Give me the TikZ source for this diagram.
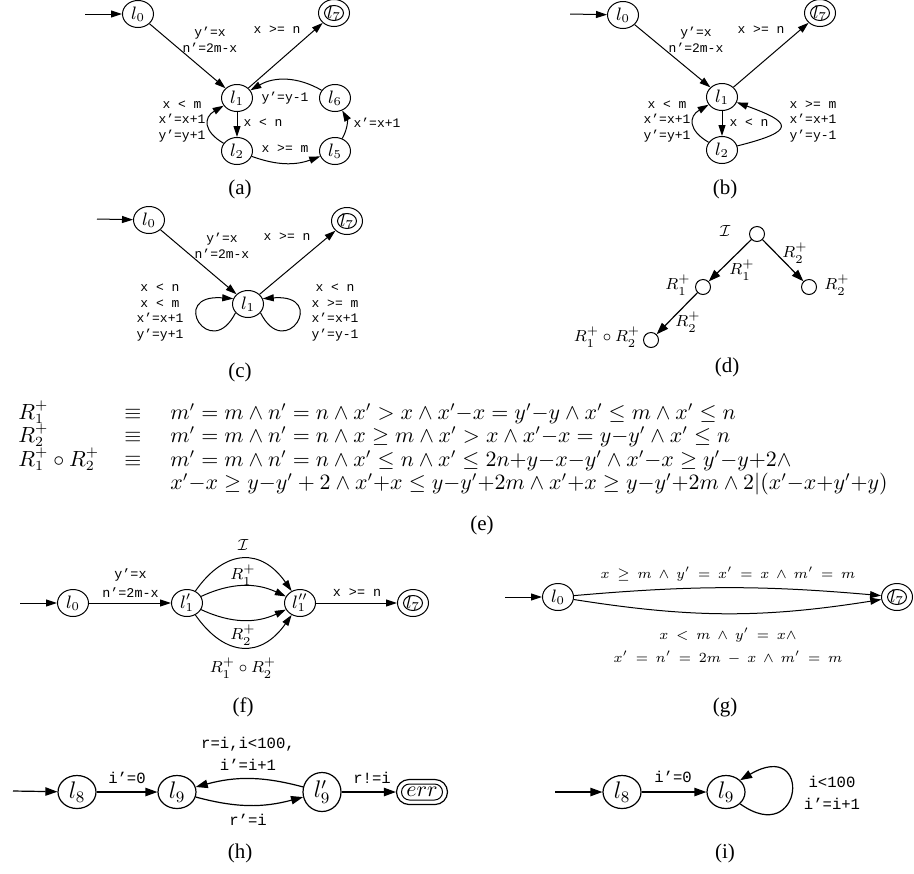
\documentclass[tikz,border=0pt]{standalone}
\usepackage[no-math]{fontspec}
\setmainfont{Liberation Serif}
\setmonofont{Liberation Mono}
\usetikzlibrary{arrows.meta,shapes.geometric,shapes.misc}
\tikzset{
  st/.style={draw, ellipse, line width=0.5pt, inner sep=0pt, minimum width=15.5pt, minimum height=13.5pt, font=\fontsize{9}{9}\selectfont},
  bst/.style={draw, ellipse, line width=0.6pt, inner sep=0pt, minimum width=19pt, minimum height=16.5pt, font=\fontsize{12}{12}\selectfont},
  ring/.style={draw, ellipse, line width=0.5pt, inner sep=0pt, minimum width=9.5pt, minimum height=7.5pt},
  tl/.style={font=\ttfamily\fontsize{6.5}{7.8}\selectfont, align=center, inner sep=0pt},
  ftl/.style={font=\ttfamily\fontsize{6.7}{9.5}\selectfont, align=center, inner sep=0pt},
  btl/.style={font=\ttfamily\fontsize{7.8}{11}\selectfont, align=center, inner sep=0pt},
  ml/.style={font=\fontsize{8.5}{10}\selectfont, inner sep=0pt},
  gl/.style={font={\fontsize{7}{11.5}\selectfont\thickmuskip=8.5mu\medmuskip=7.5mu}, align=center, inner sep=0pt},
  eq/.style={font=\fontsize{10.5}{12}\selectfont, inner sep=0pt},
  ed/.style={line width=0.5pt, -{Triangle[length=5.5pt,width=3.5pt]}},
  bed/.style={line width=0.6pt, -{Triangle[length=6pt,width=4.2pt]}},
  capt/.style={font=\fontsize{10.5}{12}\selectfont, inner sep=0pt},
  dotn/.style={draw, circle, line width=0.5pt, minimum size=7.5pt, inner sep=0pt},
}
\begin{document}
\begin{tikzpicture}[x=0.5pt,y=0.5pt]
\useasboundingbox (0,0) rectangle (914,-873);

% ---------------- (a)
\coordinate (ain) at (85,-14);
\node[st] (a0) at (138,-14) {$l_0$};
\node[st] (a7) at (334,-13) {$l_7$};
\node[ring] (a7r) at (a7) {};
\node[st] (a1) at (237,-98) {$l_1$};
\node[st] (a6) at (335,-98) {$l_6$};
\node[st] (a2) at (237,-151) {$l_2$};
\node[st] (a5) at (335,-151) {$l_5$};
\draw[ed] (ain) -- (a0);
\draw[ed] (a0) -- (a1);
\draw[ed] (a1) -- (a7);
\draw[ed] (a6) to[bend right=30] (a1);
\draw[ed] (a1) -- (a2);
\draw[ed] (a2) to[out=150,in=210,looseness=1.6] (a1);
\draw[ed] (a2) to[bend right=20] (a5);
\draw[ed] (a5) to[bend right=30] (a6);
\node[tl] (al1) at (210,-39.5) {y’=x\\n’=2m-x};
\node[tl] (al2) at (277,-30) {x >= n};
\node[tl] (al3) at (285,-98) {y’=y-1};
\node[tl] (al4) at (263,-123) {x < n};
\node[tl] (al5) at (182,-121.5) {x < m\\x’=x+1\\y’=y+1};
\node[tl] (al6) at (285,-149) {x >= m};
\node[tl] (al7) at (377,-123) {x’=x+1};
\node[capt] (acap) at (240,-189) {(a)};

% ---------------- (b)
\coordinate (bin) at (570,-14);
\node[st] (b0) at (623,-15) {$l_0$};
\node[st] (b7) at (820,-13) {$l_7$};
\node[ring] (b7r) at (b7) {};
\node[st] (b1) at (722,-97) {$l_1$};
\node[st] (b2) at (722,-150) {$l_2$};
\draw[ed] (bin) -- (b0);
\draw[ed] (b0) -- (b1);
\draw[ed] (b1) -- (b7);
\draw[ed] (b1) -- (b2);
\draw[ed] (b2) to[out=150,in=210,looseness=1.6] (b1);
\draw[ed] (b2.15) .. controls +(60,15) and +(55,-20) .. (b1.-20);
\node[tl] (bl1) at (696,-39.5) {y’=x\\n’=2m-x};
\node[tl] (bl2) at (761,-30) {x >= n};
\node[tl] (bl3) at (667,-121.5) {x < m\\x’=x+1\\y’=y+1};
\node[tl] (bl4) at (749,-123) {x < n};
\node[tl] (bl5) at (813,-121.5) {x >= m\\x’=x+1\\y’=y-1};
\node[capt] (bcap) at (725,-189) {(b)};

% ---------------- (c)
\coordinate (cin) at (97,-219);
\node[st] (c0) at (149,-220) {$l_0$};
\node[st] (c7) at (347,-221) {$l_7$};
\node[ring] (c7r) at (c7) {};
\node[st] (c1) at (248,-304) {$l_1$};
\draw[ed] (cin) -- (c0);
\draw[ed] (c0) -- (c1);
\draw[ed] (c1) -- (c7);
\draw[ed] (c1.215) .. controls +(-25,-50) and +(-66,5) .. (c1.160);
\draw[ed] (c1.-35) .. controls +(25,-50) and +(66,5) .. (c1.20);
\node[tl] (cl1) at (222,-245.5) {y’=x\\n’=2m-x};
\node[tl] (cl2) at (287,-237) {x >= n};
\node[tl] (cl3) at (160,-312.5) {x < n\\x < m\\x’=x+1\\y’=y+1};
\node[tl] (cl4) at (335,-312.5) {x < n\\x >= m\\x’=x+1\\y’=y-1};
\node[capt] (ccap) at (240,-372) {(c)};

% ---------------- (d)
\node[dotn] (d0) at (757,-234) {};
\node[dotn] (d1) at (703,-287) {};
\node[dotn] (d2) at (809,-287) {};
\node[dotn] (d3) at (651,-340) {};
\draw[bed] (d0) -- (d1);
\draw[bed] (d0) -- (d2);
\draw[bed] (d1) -- (d3);
\node[ml] (dI) at (725,-231) {$\mathcal{I}$};
\node[ml] (dR1) at (678,-285) {$R_1^+$};
\node[ml] (dR2) at (837,-285) {$R_2^+$};
\node[ml] (de1) at (742,-270) {$R_1^+$};
\node[ml] (de2) at (795,-253) {$R_2^+$};
\node[ml] (de3) at (688,-322) {$R_2^+$};
\node[ml] (dR12) at (607,-337) {$R_1^+\circ R_2^+$};
\node[capt] (dcap) at (727,-367) {(d)};

% ---------------- (e)
\node[eq, anchor=base west] (eA1) at (18,-419) {$R_1^+$};
\node[eq, anchor=base west] (eA2) at (18,-442) {$R_2^+$};
\node[eq, anchor=base west] (eA3) at (18,-466) {$R_1^+\circ R_2^+$};
\node[eq, anchor=base] (eB1) at (133,-419) {$\equiv$};
\node[eq, anchor=base] (eB2) at (133,-442) {$\equiv$};
\node[eq, anchor=base] (eB3) at (133,-466) {$\equiv$};
\node[eq, anchor=base west] (eC1) at (170,-419) {$m' = m \wedge n' = n \wedge x' > x \wedge x'{-}x = y'{-}y \wedge x' \leq m \wedge x' \leq n$};
\node[eq, anchor=base west] (eC2) at (170,-442) {$m' = m \wedge n' = n \wedge x \geq m \wedge x' > x \wedge x'{-}x = y{-}y' \wedge x' \leq n$};
\node[eq, anchor=base west] (eC3) at (170,-466) {$m' = m \wedge n' = n \wedge x' \leq n \wedge x' \leq 2n{+}y{-}x{-}y' \wedge x'{-}x \geq y'{-}y{+}2\wedge$};
\node[eq, anchor=base west] (eC4) at (170,-489) {$x'{-}x \geq y{-}y' + 2 \wedge x'{+}x \leq y{-}y'{+}2m \wedge x'{+}x \geq y{-}y'{+}2m \wedge 2|(x'{-}x{+}y'{+}y)$};
\node[capt] (ecap) at (482,-525) {(e)};

% ---------------- (f)
\coordinate (fin) at (20,-603);
\node[st] (f0) at (73,-603) {$l_0$};
\node[st] (f1) at (187,-603) {$l_1'$};
\node[st] (f2) at (300,-603) {$l_1''$};
\node[st] (f7) at (413,-603) {$l_7$};
\node[ring] (f7r) at (f7) {};
\draw[ed] (fin) -- (f0);
\draw[ed] (f0) -- (f1);
\draw[ed] (f1) to[out=55,in=125,looseness=1.4] (f2);
\draw[ed] (f1) to[bend left=25] (f2);
\draw[ed] (f1) to[bend right=25] (f2);
\draw[ed] (f1) to[out=-55,in=-125,looseness=1.4] (f2);
\draw[ed] (f2) -- (f7);
\node[ftl] (fl1) at (130.5,-583.5) {y’=x\\n’=2m-x};
\node[ftl] (fl2) at (357,-593) {x >= n};
\node[ml] (fI) at (243,-545) {$\mathcal{I}$};
\node[ml] (fR1) at (243,-575) {$R_1^+$};
\node[ml] (fR2) at (243,-635) {$R_2^+$};
\node[ml] (fR12) at (243,-668) {$R_1^+\circ R_2^+$};
\node[capt] (fcap) at (243,-707) {(f)};

% ---------------- (g)
\coordinate (gin) at (505,-597);
\node[st] (g0) at (558,-597) {$l_0$};
\node[st] (g7) at (897,-597) {$l_7$};
\node[ring] (g7r) at (g7) {};
\draw[ed] (gin) -- (g0);
\draw[ed] (g0) to[bend left=5] (g7);
\draw[ed] (g0) to[bend right=9] (g7);
\node[gl] (gl1) at (728,-574) {$x \geq m \wedge y' = x' = x \wedge m' = m$};
\node[gl] (gl2) at (728,-646.5) {$x < m \wedge y' = x\wedge$\\$x' = n' = 2m - x \wedge m' = m$};
\node[capt] (gcap) at (725,-707) {(g)};

% ---------------- (h)
\coordinate (hin) at (13,-791);
\node[bst] (h8) at (77,-792) {$l_8$};
\node[bst] (h9) at (177,-792) {$l_9$};
\node[bst, minimum height=19.5pt] (h9p) at (322,-792) {$l_9'$};
\node[draw, rounded rectangle, line width=0.6pt, inner sep=0pt, minimum width=25.5pt, minimum height=12.5pt, font=\fontsize{11}{11}\selectfont] (herr) at (422,-792) {$err$};
\node[draw, rounded rectangle, line width=0.5pt, inner sep=0pt, minimum width=20.5pt, minimum height=8pt] (herrr) at (herr) {};
\draw[bed] (hin) -- (h8);
\draw[bed] (h8) -- (h9);
\draw[bed] (h9p.165) to[bend right=15] (h9.15);
\draw[bed] (h9.-15) to[bend right=15] (h9p.-165);
\draw[bed] (h9p) -- (herr);
\node[btl] (hl1) at (127,-778) {i’=0};
\node[btl] (hl2) at (248,-754) {r=i,i<100,\\i’=i+1};
\node[btl] (hl3) at (248,-820) {r’=i};
\node[btl] (hl4) at (372,-778) {r!=i};
\node[capt] (hcap) at (240,-853) {(h)};

% ---------------- (i)
\coordinate (iin) at (555,-792);
\node[bst] (i8) at (622,-792) {$l_8$};
\node[bst] (i9) at (726,-792) {$l_9$};
\draw[bed] (iin) -- (i8);
\draw[bed] (i8) -- (i9);
\draw[bed] (i9.-40) .. controls +(63,-45) and +(73,43) .. (i9.40);
\node[btl] (il2) at (673,-777) {i’=0};
\node[btl] (il3) at (832,-792.5) {i<100\\i’=i+1};
\node[capt] (icap) at (725,-853) {(i)};
\end{tikzpicture}
\end{document}
